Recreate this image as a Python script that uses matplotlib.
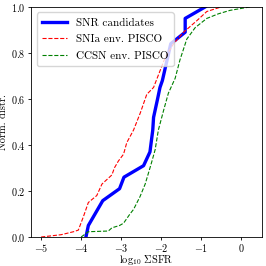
import matplotlib
matplotlib.use('Agg')
import matplotlib.pyplot as plt

matplotlib.rcParams['font.family'] = 'serif'
matplotlib.rcParams['font.serif'] = ['cmr10', 'DejaVu Serif']
matplotlib.rcParams['mathtext.fontset'] = 'cm'
matplotlib.rcParams['axes.formatter.use_mathtext'] = True
matplotlib.rcParams['axes.unicode_minus'] = True

# cumulative distributions
snr_x = [-3.88, -3.82, -3.46, -3.04, -2.93, -2.44, -2.28, -2.21, -2.19, -2.09,
         -2.03, -1.97, -1.76, -1.40, -1.40, -0.90]
snr_y = [0.0, 0.05, 0.158, 0.21, 0.26, 0.31, 0.37, 0.465, 0.52, 0.60,
         0.65, 0.68, 0.84, 0.89, 0.95, 1.0]

snia_x = [-5.0, -4.5, -4.19, -4.07, -3.94, -3.82, -3.61, -3.48, -3.23, -3.17,
          -3.07, -2.94, -2.86, -2.69, -2.52, -2.36, -2.19, -1.9, -1.69, -1.44,
          -1.11, -0.86, -0.5]
snia_y = [0.0, 0.01, 0.023, 0.03, 0.09, 0.15, 0.18, 0.23, 0.27, 0.30,
          0.33, 0.36, 0.41, 0.465, 0.54, 0.62, 0.65, 0.78, 0.84, 0.89,
          0.94, 0.98, 1.0]

ccsn_x = [-4.0, -3.82, -3.32, -3.23, -3.04, -2.94, -2.78, -2.69, -2.53, -2.4,
          -2.28, -2.23, -2.15, -2.07, -1.94, -1.82, -1.65, -1.53, -1.36, -1.15,
          -0.86, -0.57, -0.28, 0.22]
ccsn_y = [0.0, 0.023, 0.026, 0.04, 0.05, 0.06, 0.10, 0.12, 0.175, 0.23,
          0.30, 0.33, 0.38, 0.465, 0.55, 0.625, 0.69, 0.77, 0.86, 0.91,
          0.95, 0.97, 0.985, 1.0]

fig = plt.figure(figsize=(2.66, 2.66), dpi=100)
ax = fig.add_axes([0.117, 0.109, 0.868, 0.865])

ax.plot(snr_x, snr_y, color='b', lw=2.4, label='SNR candidates')
ax.plot(snia_x, snia_y, color='r', ls='--', lw=0.8, label='SNIa env. PISCO')
ax.plot(ccsn_x, ccsn_y, color='g', ls='--', lw=0.8, label='CCSN env. PISCO')

ax.set_xlim(-5.25, 0.52)
ax.set_ylim(0, 1)
ax.set_xticks([-5, -4, -3, -2, -1, 0])
ax.set_yticks([0.0, 0.2, 0.4, 0.6, 0.8, 1.0])
ax.tick_params(labelsize=7.3, length=2.5, width=0.6, pad=1.5)
ax.tick_params(axis='x', pad=1)
for s in ax.spines.values():
    s.set_linewidth(0.6)
ax.set_xlabel(r'$\log_{10}\,\Sigma\mathrm{SFR}$', fontsize=7.5, labelpad=-0.8)
ax.set_ylabel('Norm. distr.', fontsize=7.5, labelpad=2)
ax.legend(loc='upper left', fontsize=8, handlelength=2.2, borderpad=0.5,
          labelspacing=0.6)

plt.savefig('out.png', dpi=100)
plt.close()
